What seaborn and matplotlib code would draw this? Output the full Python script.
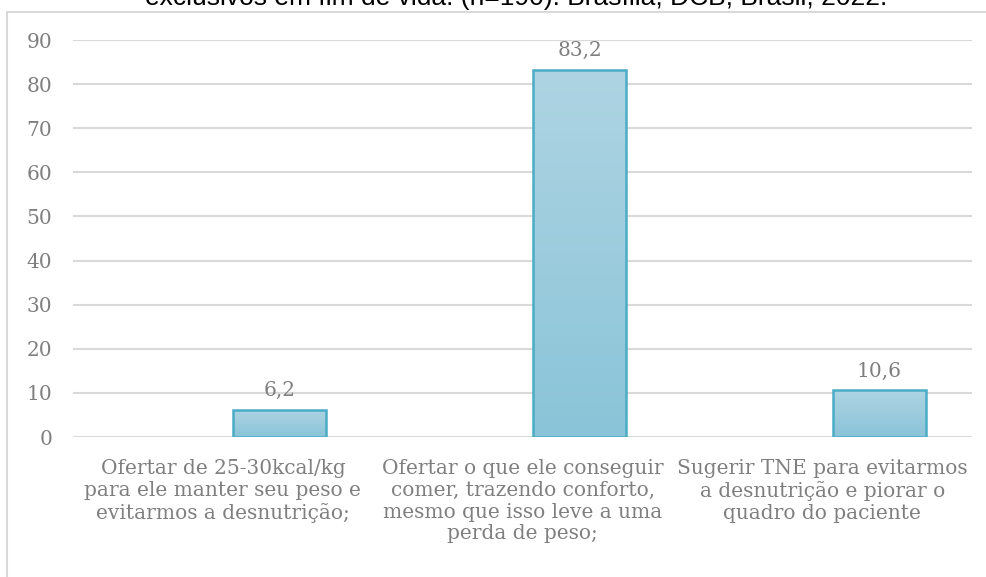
import numpy as np
import pandas as pd
import seaborn as sns
import matplotlib.pyplot as plt
from matplotlib.patches import Rectangle
from matplotlib.colors import LinearSegmentedColormap

# data
categorias = [
    "Ofertar de 25-30kcal/kg\npara ele manter seu peso e\nevitarmos a desnutrição;",
    "Ofertar o que ele conseguir\ncomer, trazendo conforto,\nmesmo que isso leve a uma\nperda de peso;",
    "Sugerir TNE para evitarmos\na desnutrição e piorar o\nquadro do paciente",
]
percentuais = [6.2, 83.2, 10.6]
rotulos = ["6,2", "83,2", "10,6"]
yticks = [0, 10, 20, 30, 40, 50, 60, 70, 80, 90]
titulo = "exclusivos em fim de vida. (n=190). Brasília, DCB, Brasil, 2022."

# the original is a clustered chart with an empty first series, so bars sit right of centre
df = pd.concat([
    pd.DataFrame({"categoria": categorias, "valor": 0.0, "serie": "vazio"}),
    pd.DataFrame({"categoria": categorias, "valor": percentuais, "serie": "pct"}),
])

sns.set_theme(style="white")
serif = ["DejaVu Serif"]
cinza = "#7F7F7F"
fs = 14.5

fig = plt.figure(figsize=(9.87, 5.77), dpi=100)
ax = fig.add_axes([0.074, 0.2426, 0.911, 0.688])

sns.barplot(data=df, x="categoria", y="valor", hue="serie", hue_order=["vazio", "pct"],
            width=0.76, gap=0.184, palette=["#9ECDDF", "#9ECDDF"], edgecolor="#4BACC6",
            linewidth=1.8, legend=False, ax=ax, zorder=3)

ax.set_ylim(0, 90)
ax.set_yticks(yticks)
ax.yaxis.grid(True, color="#D9D9D9", linewidth=1.5, zorder=0)
ax.set_axisbelow(True)
sns.despine(ax=ax, left=True, bottom=True)
ax.set(xlabel="", ylabel="")
ax.tick_params(axis="both", length=0, colors=cinza, labelsize=fs)
ax.tick_params(axis="y", pad=15)
ax.tick_params(axis="x", pad=16)
for lbl in ax.get_xticklabels() + ax.get_yticklabels():
    lbl.set_family(serif)
    lbl.set_color(cinza)
for lbl in ax.get_xticklabels():
    lbl.set_linespacing(1.18)

# gradient fill inside each bar, outline kept on top
cmap = LinearSegmentedColormap.from_list("g", ["#8AC4D8", "#AED4E3"])
grad = np.linspace(0, 1, 256).reshape(-1, 1)
for p in list(ax.patches):
    if p.get_height() == 0:
        p.remove()
barras = list(ax.patches)
for p, txt in zip(barras, rotulos):
    b = p.get_bbox()
    im = ax.imshow(grad, extent=[b.x0, b.x1, b.y0, b.y1], origin="lower", aspect="auto",
                   cmap=cmap, zorder=3.5)
    im.set_clip_path(p)
    p.set_facecolor("none")
    p.set_zorder(4)
    ax.annotate(txt, (b.x0 + b.width / 2, b.y1), xytext=(0, 7), textcoords="offset points",
                ha="center", va="bottom", fontsize=fs, color=cinza, family=serif)
ax.set_xlim(-0.5, 2.5)
ax.set_ylim(0, 90)

# outer frame and the title, cut at the top edge as in the original
fig.patches.append(Rectangle((0.007, -0.1), 1.1, 1.079, transform=fig.transFigure,
                             fill=False, edgecolor="#D9D9D9", linewidth=1.5))
fig.text(0.523, 0.991, titulo, ha="center", va="baseline", fontsize=19,
         family=["Liberation Sans", "DejaVu Sans"], color="black")

fig.savefig("out.png", dpi=100)
